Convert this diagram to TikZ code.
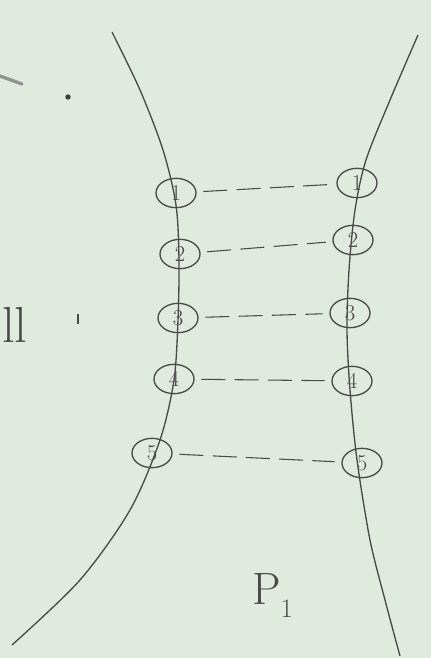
\documentclass[tikz,border=0pt]{standalone}
\begin{document}
\begin{tikzpicture}[x=0.75pt,y=-0.75pt,
  pen/.style={draw=ink,line width=1pt},
  num/.style={pen,ellipse,minimum width=30pt,minimum height=22pt,inner sep=0pt,font=\fontsize{17}{17}\selectfont,text=ink},
  link/.style={draw=ink,line width=0.8pt,dash pattern=on 18pt off 7pt,shorten <=5pt,shorten >=5pt}]
\definecolor{ink}{HTML}{4A4A4A}
\definecolor{paper}{HTML}{E1EADF}
\usetikzlibrary{shapes.geometric}
\fill[paper] (0,0) rectangle (431,658);
\useasboundingbox (0,0) rectangle (431,658);
% curves
\draw[pen] plot[smooth] coordinates {(112,32) (140,90) (163,150) (176,205) (179,260) (178,320) (174,380) (160,440) (130,510) (80,580) (12,645)};
\draw[pen] plot[smooth] coordinates {(418,35) (390,100) (366,160) (355,210) (349,270) (347,330) (350,390) (357,460) (370,540) (385,600) (400,656)};
% circles
\node[num] (l1) at (176,193) {1};
\node[num] (l2) at (180,254) {2};
\node[num] (l3) at (178,318) {3};
\node[num] (l4) at (174,379) {4};
\node[num] (l5) at (152,453) {5};
\node[num] (r1) at (357,183) {1};
\node[num] (r2) at (353,240) {2};
\node[num] (r3) at (350,313) {3};
\node[num] (r4) at (352,381) {4};
\node[num] (r5) at (362,463) {5};
% links
\draw[link] (l1) -- (r1);
\draw[link] (l2) -- (r2);
\draw[link] (l3) -- (r3);
\draw[link] (l4) -- (r4);
\draw[link] (l5) -- (r5);
% texts
\node[text=ink,font=\fontsize{38}{38}\selectfont,anchor=base west,inner sep=0pt] (ll) at (2,342) {ll};
\node[text=ink,font=\fontsize{34}{34}\selectfont,anchor=base west,inner sep=0pt] (p1) at (252,604) {P\raisebox{-10pt}{\fontsize{20}{20}\selectfont 1}};
% marks
\draw[ink,line width=1pt] (78,314) -- (78,324);
\draw[ink!60,line width=2.5pt,line cap=round] (0,76) -- (22,84);
\fill[ink!80!black] (68,97) circle (2pt);
\end{tikzpicture}
\end{document}
